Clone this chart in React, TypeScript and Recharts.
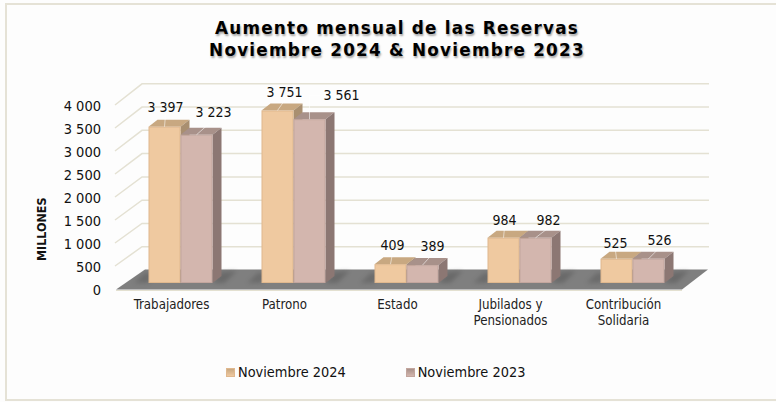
import React from 'react';
import { BarChart, Bar, XAxis, YAxis, CartesianGrid, Legend, LabelList, Text } from 'recharts';

const categories = ['Trabajadores', 'Patrono', 'Estado', 'Jubilados y Pensionados', 'Contribución Solidaria'];
const nov2024 = [3397, 3751, 409, 984, 525];
const nov2023 = [3223, 3561, 389, 982, 526];
const yTicks = [0, 500, 1000, 1500, 2000, 2500, 3000, 3500, 4000];
const titleLines = ['Aumento mensual de las Reservas', 'Noviembre 2024 & Noviembre 2023'];
const seriesNames = ['Noviembre 2024', 'Noviembre 2023'];

const data = categories.map((name, i) => ({ name, a: nov2024[i], b: nov2023[i] }));

// Label displacement from each bar's top centre (style only)
const nudgeA = [[1, -20], [7, -18], [2, -19], [1, -18], [-1, -16]];
const nudgeB = [[17, -23], [32, -24], [10, -19], [13, -18], [11, -19]];

const FONT = '"DejaVu Sans", sans-serif';
const TXT: React.CSSProperties = { fontFamily: FONT, fontStretch: 'condensed' };
const DX = 9;
const DY = 7;
const BASE = 283;
const fmt = (v: number) => String(v).replace(/\B(?=(\d{3})+$)/g, ' ');

const palette = {
  a: { front: '#EFC9A0', top: '#C8A881', side: '#A98F70', edge: '#E0B88E' },
  b: { front: '#D3B6AE', top: '#A8918A', side: '#8C7773', edge: '#C3A69E' },
};

function shape(kind: 'a' | 'b') {
  return (p: any) => {
    const { x, y, width: w, height: h } = p;
    const c = palette[kind];
    const bottom = y + h;
    return (
      <g>
        {kind === 'a' && (
          <polygon points={`${x},${bottom} ${x + DX - 2},${bottom - 10} ${x - 4},${bottom - 10} ${x - 14},${bottom}`} fill="#555" opacity={0.45} style={{ filter: 'blur(2px)' }} />
        )}
        {kind === 'b' && (
          <polygon points={`${x + w},${bottom} ${x + w + DX},${bottom - DY - 4} ${x + w + 24},${bottom - DY - 5} ${x + w + 12},${bottom}`} fill="#555" opacity={0.5} style={{ filter: 'blur(2px)' }} />
        )}
        <polygon points={`${x},${y} ${x + DX},${y - DY} ${x + w + DX},${y - DY} ${x + w},${y}`} fill={c.top} />
        <polygon points={`${x + w},${y} ${x + w + DX},${y - DY} ${x + w + DX},${bottom - DY} ${x + w},${bottom}`} fill={c.side} />
        <rect x={x + 0.5} y={y + 0.5} width={w - 1} height={Math.max(h - 1, 0)} fill={c.front} stroke={c.edge} strokeWidth={1} />
      </g>
    );
  };
}

function gridLine(p: any) {
  const { y1, y2 } = p;
  const y = y1 ?? y2;
  const back = y - 13 - (BASE - y) * 0.012;
  const isZero = Math.abs(y - BASE) < 0.5;
  return (
    <g key={p.key}>
      {isZero ? (
        <g>
          <polygon points="116,289.5 682,289.5 708,269.5 145,269.5" fill="#7F7F7F" />
          <line x1={116} y1={290.5} x2={682} y2={290.5} stroke="#E3E0D0" strokeWidth={1} />
        </g>
      ) : (
        <polyline points={`115,${y + 6} 142,${back} 709,${back}`} fill="none" stroke="#E4E1D3" strokeWidth={1.5} />
      )}
    </g>
  );
}

function labelRenderer(nudges: number[][], thick: number) {
  return (p: any) => {
    const { x, y, width, value, index } = p;
    const cx = x + width / 2;
    const [dx, dy] = nudges[index];
    const lx = cx + dx;
    const ly = y + dy;
    const elbow = dx > 25;
    const pts = elbow ? `${cx},${y} ${cx},${ly} ${lx - 21},${ly}` : `${cx},${y} ${lx},${ly + 8}`;
    return (
      <g>
        <polyline points={pts} fill="none" stroke="#fff" strokeOpacity={0.55} strokeWidth={thick} />
        <text x={lx} y={ly} textAnchor="middle" dominantBaseline="central" fontSize={14} fill="#111" style={TXT}>
          {fmt(value)}
        </text>
      </g>
    );
  };
}

function YTick(p: any) {
  return (
    <text x={101} y={p.y + 6.5} textAnchor="end" dominantBaseline="central" fontSize={14.5} fill="#111" style={TXT}>
      {fmt(p.payload.value)}
    </text>
  );
}

function XTick(p: any) {
  return (
    <Text x={p.x - 8.5} y={300} width={100} textAnchor="middle" verticalAnchor="start" lineHeight={16} fontSize={13.2} fill="#222" style={TXT}>
      {p.payload.value}
    </Text>
  );
}

function LegendBox() {
  const colors = [palette.a, palette.b];
  return (
    <div style={{ display: 'flex', height: 20, alignItems: 'center', fontSize: 14.4, color: '#111', ...TXT }}>
      {seriesNames.map((n, i) => (
        <div key={n} style={{ display: 'flex', alignItems: 'center', marginRight: i === 0 ? 60 : 0 }}>
          <span
            style={{
              width: 9,
              height: 9,
              marginRight: 3,
              display: 'inline-block',
              background: `linear-gradient(${colors[i].top}, ${colors[i].front})`,
              border: `1px solid ${colors[i].edge}`,
              boxSizing: 'border-box',
            }}
          />
          <span>{n}</span>
        </div>
      ))}
    </div>
  );
}

export default function App() {
  return (
    <div style={{ position: 'absolute', left: 0, top: 0, width: 776, height: 402, background: '#FDFDFD', overflow: 'hidden' }}>
      <div style={{ position: 'absolute', left: 5, top: 3, width: 780, height: 398, boxSizing: 'border-box', border: '2px solid #E5E2D6' }} />
      <div
        style={{
          position: 'absolute',
          left: 0,
          width: 794,
          top: 17,
          textAlign: 'center',
          fontFamily: FONT,
          fontWeight: 'bold',
          fontSize: 16.8,
          lineHeight: '22px',
          letterSpacing: 1.25,
          color: '#000',
          textShadow: '1px 2px 2px rgba(0,0,0,0.35)',
        }}
      >
        {titleLines.map((t) => (
          <div key={t}>{t}</div>
        ))}
      </div>
      <div style={{ position: 'absolute', left: 0, top: 0 }}>
        <BarChart
          width={776}
          height={402}
          data={data}
          barSize={32}
          barGap={0}
          margin={{ top: 99, right: 87.5, bottom: 69, left: 63.5 }}
        >
          <CartesianGrid vertical={false} horizontal={gridLine} />
          <XAxis dataKey="name" height={30} axisLine={false} tickLine={false} tick={XTick} interval={0} />
          <YAxis
            width={60}
            domain={[0, 4000]}
            ticks={yTicks}
            interval={0}
            axisLine={false}
            tickLine={false}
            tick={YTick}
            label={{ value: 'MILLONES', angle: -90, position: 'insideLeft', dx: -27, dy: 70, style: { fontFamily: FONT, fontStretch: 'condensed', fontWeight: 'bold', fontSize: 12.4, fill: '#111' } }}
          />
          <Legend content={<LegendBox />} wrapperStyle={{ left: 226, top: 362, width: 340, height: 20 }} />
          <Bar dataKey="a" name={seriesNames[0]} isAnimationActive={false} shape={shape('a')}>
            <LabelList dataKey="a" content={labelRenderer(nudgeA, 1)} />
          </Bar>
          <Bar dataKey="b" name={seriesNames[1]} isAnimationActive={false} shape={shape('b')}>
            <LabelList dataKey="b" content={labelRenderer(nudgeB, 1)} />
          </Bar>
        </BarChart>
      </div>
    </div>
  );
}
